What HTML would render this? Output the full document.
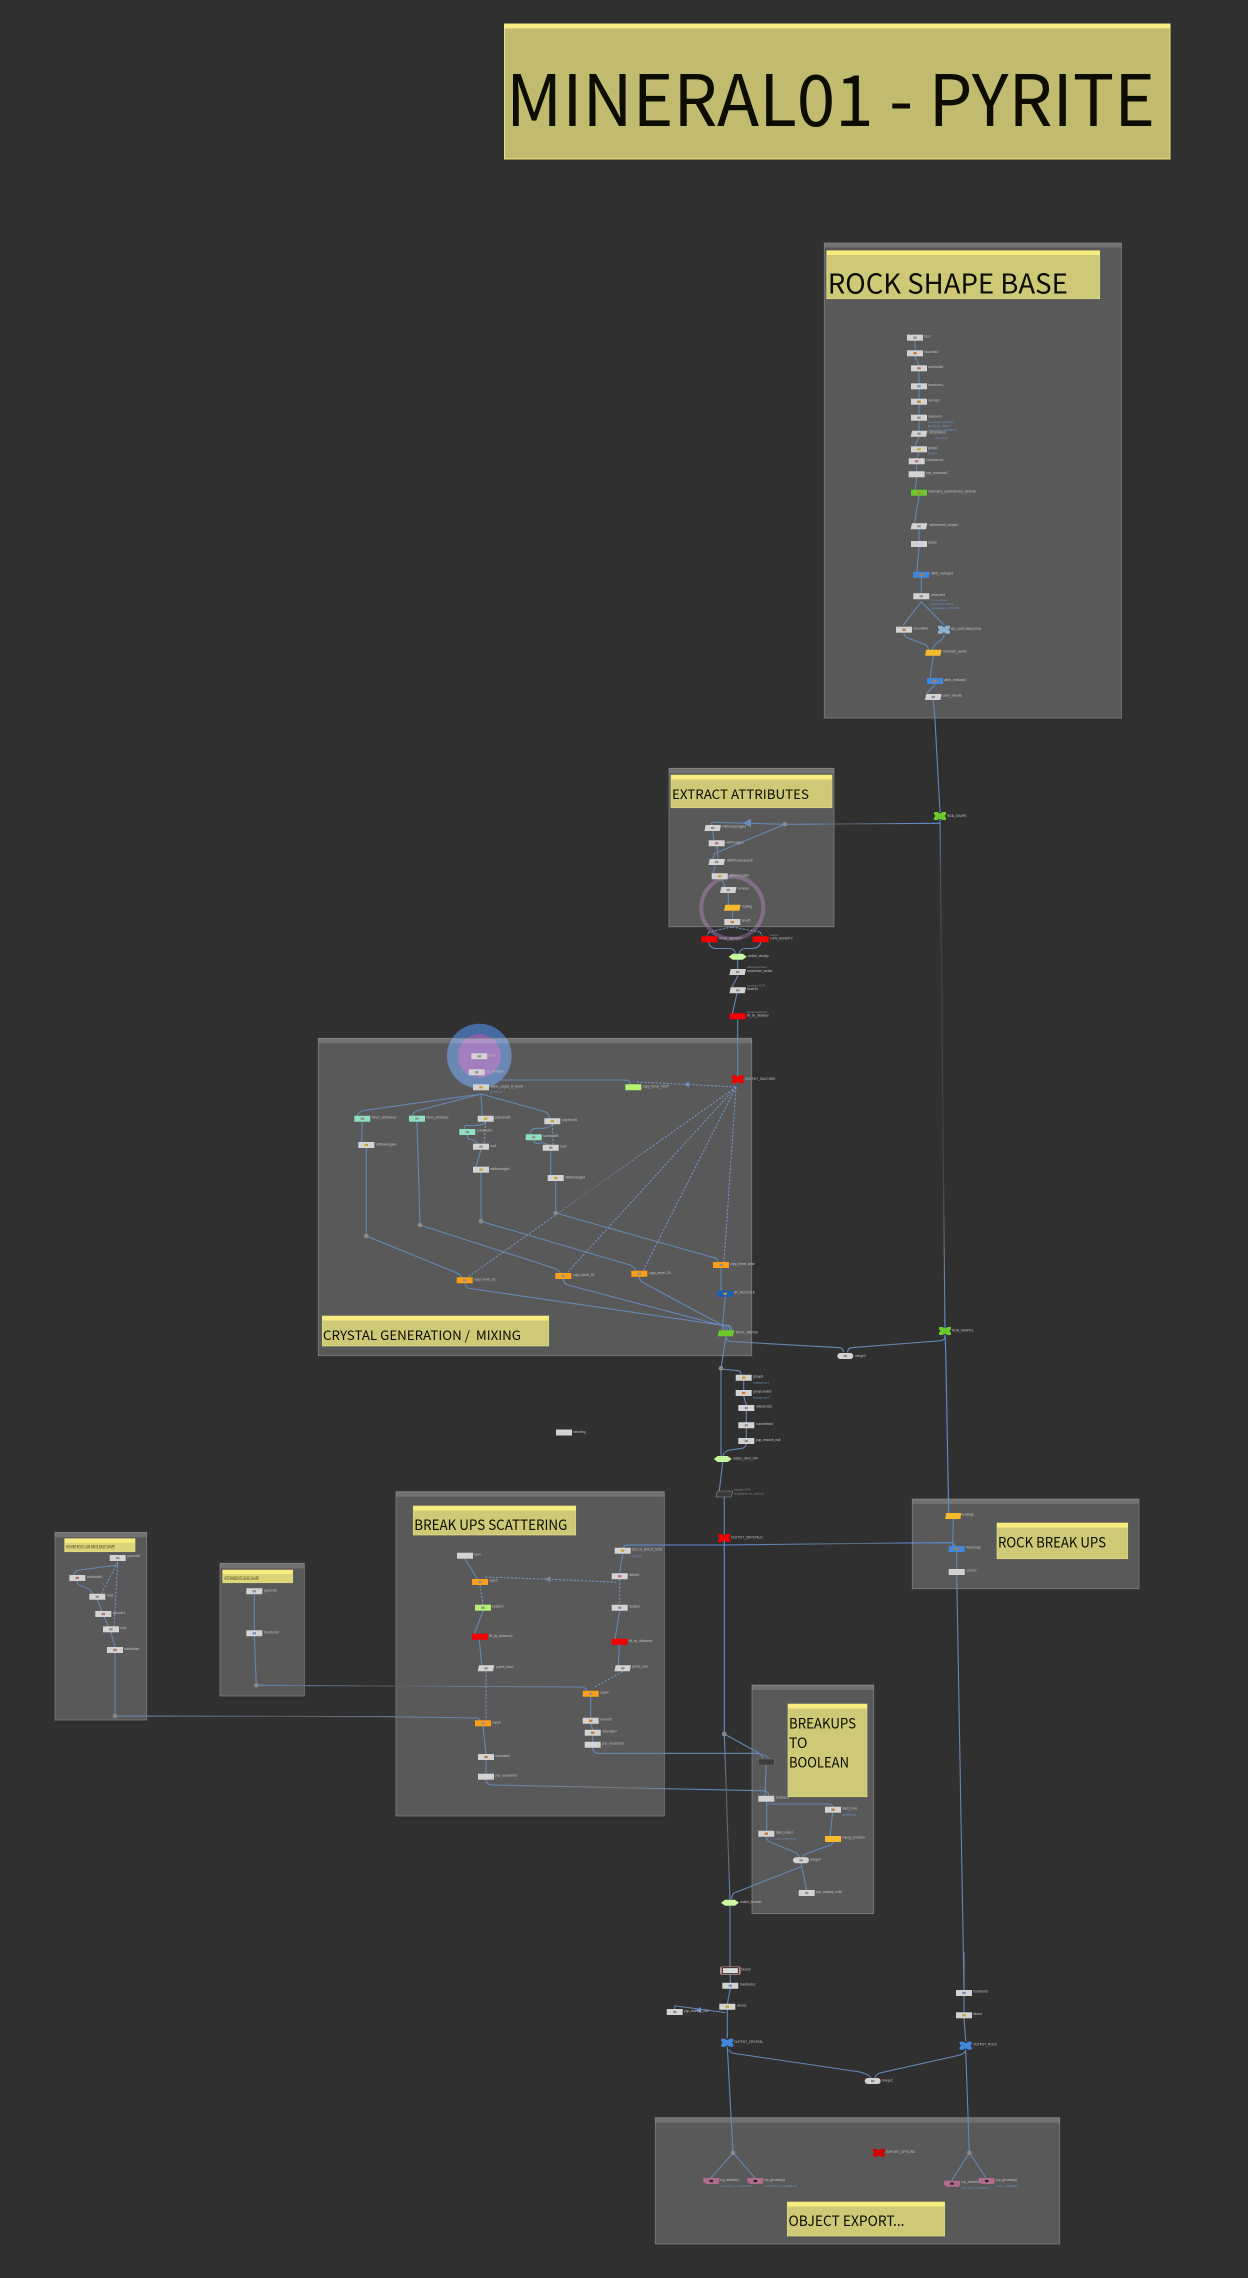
<!DOCTYPE html>
<html><head><meta charset="utf-8"><title>MINERAL01 - PYRITE</title>
<style>
html,body{margin:0;padding:0;background:#303030}
svg{display:block}
.w{fill:none;stroke:#6488b6;stroke-width:1.1;stroke-linejoin:round;stroke-linecap:round}
.d{fill:none;stroke:#7398c8;stroke-width:1;stroke-dasharray:2.2 1.5}
.l text{font:3.2px "Liberation Sans",sans-serif;fill:#c2c2c2}
.s text{font:3px "Liberation Sans",sans-serif;fill:#6a94c8}
.m text{font:3px "Liberation Sans",sans-serif;fill:#8a8a8a}
.t{font-family:"Noto Sans CJK JP","Liberation Sans",sans-serif;fill:#0c0c00;white-space:pre}
.box{fill:rgba(255,255,255,.2);stroke:#7c7c7c;stroke-width:.8}
.hd{fill:rgba(255,255,255,.15)}
.st{fill:#cec977;stroke:#e0da82;stroke-width:.7}
.sh{fill:#f6ec80}
</style></head>
<body>
<svg xmlns="http://www.w3.org/2000/svg" width="1248" height="2278" viewBox="0 0 1248 2278">
<defs>
<path id="n" d="M-8-3H8V3H-8z"/>
<path id="p" d="M-7-3H8.3L7 3H-8.3z"/>
<path id="c" d="M-6-4h3.5l2.5 1.5 2.5-1.5h3.5v2.5l-1.5 1.5 1.5 1.5v2.5h-3.5l-2.5-1.5-2.5 1.5h-3.5v-2.5l1.5-1.5-1.5-1.5z"/>
<path id="h" d="M-9 0L-5-3H5L9 0 5 3H-5z"/>
<rect id="e" x="-8" y="-3" width="16" height="6" rx="3"/>
<path id="k" d="M-8-3H8V1L7 3H-5L-8 1z"/>
<rect id="i" x="-1.7" y="-1.1" width="3.4" height="2.2"/>
<circle id="o" r="2.3" fill="#8a8a8a"/>
<linearGradient id="g1" gradientUnits="userSpaceOnUse" x1="940" y1="0" x2="785" y2="0"><stop offset="0" stop-color="#5b8fd4"/><stop offset=".3" stop-color="#6488b6"/><stop offset=".6" stop-color="#5a5f66"/><stop offset=".8" stop-color="#6488b6"/></linearGradient>
<linearGradient id="g2" gradientUnits="userSpaceOnUse" x1="0" y1="816" x2="0" y2="1331"><stop offset="0" stop-color="#5b8fd4"/><stop offset=".12" stop-color="#50565e"/><stop offset=".3" stop-color="#414141"/><stop offset=".7" stop-color="#444"/><stop offset=".88" stop-color="#6a7f9a"/><stop offset="1" stop-color="#5b8fd4"/></linearGradient>
<linearGradient id="g3" gradientUnits="userSpaceOnUse" x1="115" y1="0" x2="480" y2="0"><stop offset="0" stop-color="#6488b6"/><stop offset=".45" stop-color="#52575c"/><stop offset=".75" stop-color="#6a7a8c"/><stop offset="1" stop-color="#6488b6"/></linearGradient>
<linearGradient id="g4" gradientUnits="userSpaceOnUse" x1="256" y1="0" x2="590" y2="0"><stop offset="0" stop-color="#6488b6"/><stop offset=".35" stop-color="#50555b"/><stop offset=".6" stop-color="#6a7a8c"/><stop offset="1" stop-color="#6488b6"/></linearGradient>
<linearGradient id="g5" gradientUnits="userSpaceOnUse" x1="486" y1="0" x2="767" y2="0"><stop offset="0" stop-color="#6488b6"/><stop offset=".5" stop-color="#777"/><stop offset=".75" stop-color="#5b8fd4"/><stop offset="1" stop-color="#6488b6"/></linearGradient>
<linearGradient id="g6" gradientUnits="userSpaceOnUse" x1="0" y1="1734" x2="0" y2="1905"><stop offset="0" stop-color="#5b8fd4"/><stop offset=".3" stop-color="#666"/><stop offset=".7" stop-color="#666"/><stop offset="1" stop-color="#5b8fd4"/></linearGradient>
<linearGradient id="g8" gradientUnits="userSpaceOnUse" x1="724" y1="0" x2="953" y2="0"><stop offset="0" stop-color="#5b8fd4"/><stop offset=".6" stop-color="#5b6b80"/><stop offset=".8" stop-color="#5b8fd4"/></linearGradient>
<linearGradient id="g9" gradientUnits="userSpaceOnUse" x1="736" y1="1087" x2="468" y2="1277"><stop offset="0" stop-color="#7398c8"/><stop offset=".3" stop-color="#7398c8"/><stop offset=".55" stop-color="#666c74"/><stop offset=".72" stop-color="#7398c8"/></linearGradient>
</defs>

<rect width="1248" height="2278" fill="#303030"/>

<!-- highlight rings -->
<circle cx="732.3" cy="907.7" r="31" fill="none" stroke="#634c6a" stroke-width="4"/>
<circle cx="479.3" cy="1056" r="32.3" fill="#466ba3"/>
<circle cx="479.3" cy="1056" r="21.7" fill="#8a5fb0"/>

<!-- network boxes -->
<rect class="box" x="824.3" y="243" width="297.2" height="475"/><rect class="hd" x="824.3" y="243" width="297.2" height="4.5"/>
<rect class="box" x="669" y="768.3" width="165" height="158.4"/><rect class="hd" x="669" y="768.3" width="165" height="5"/>
<rect class="box" x="318.3" y="1038.3" width="433.4" height="317.4"/><rect class="hd" x="318.3" y="1038.3" width="433.4" height="5"/>
<rect class="box" x="912.3" y="1499" width="226.7" height="89.7"/><rect class="hd" x="912.3" y="1499" width="226.7" height="5"/>
<rect class="box" x="396" y="1491.7" width="268.3" height="324.3"/><rect class="hd" x="396" y="1491.7" width="268.3" height="5"/>
<rect class="box" x="752" y="1685" width="121.7" height="228.6"/><rect class="hd" x="752" y="1685" width="121.7" height="5"/>
<rect class="box" x="55" y="1532.3" width="91.7" height="187.7"/><rect class="hd" x="55" y="1532.3" width="91.7" height="5"/>
<rect class="box" x="220" y="1563.3" width="84.3" height="132.7"/><rect class="hd" x="220" y="1563.3" width="84.3" height="5"/>
<rect class="box" x="655.3" y="2117.7" width="404.4" height="126.3"/><rect class="hd" x="655.3" y="2117.7" width="404.4" height="5"/>

<!-- sticky notes -->
<rect x="504.5" y="24" width="665.5" height="135" fill="#c1bb70" stroke="#efe67c" stroke-width="1"/><rect class="sh" x="504.5" y="24" width="665.5" height="4.5"/>
<text class="t" x="506" y="126" font-size="71" textLength="649" lengthAdjust="spacingAndGlyphs">MINERAL01 - PYRITE</text>
<rect class="st" x="826.7" y="250.7" width="273" height="48"/><rect class="sh" x="826.7" y="250.7" width="273" height="4.3"/>
<text class="t" x="827.8" y="293.3" font-size="27.5" textLength="240" lengthAdjust="spacingAndGlyphs">ROCK SHAPE BASE</text>
<rect class="st" x="671" y="775" width="161" height="32.7"/><rect class="sh" x="671" y="775" width="161" height="4.5"/>
<text class="t" x="672" y="799" font-size="13" textLength="137" lengthAdjust="spacingAndGlyphs">EXTRACT ATTRIBUTES</text>
<rect class="st" x="322.3" y="1316" width="226.4" height="30"/><rect class="sh" x="322.3" y="1316" width="226.4" height="4.5"/>
<text class="t" x="323" y="1340" font-size="13" textLength="198" lengthAdjust="spacingAndGlyphs">CRYSTAL GENERATION /  MIXING</text>
<rect class="st" x="997" y="1523" width="130.7" height="35.7"/><rect class="sh" x="997" y="1523" width="130.7" height="4.5"/>
<text class="t" x="998" y="1547.3" font-size="14" textLength="108" lengthAdjust="spacingAndGlyphs">ROCK BREAK UPS</text>
<rect class="st" x="413.3" y="1506" width="162.4" height="29"/><rect class="sh" x="413.3" y="1506" width="162.4" height="4.5"/>
<text class="t" x="414.3" y="1530" font-size="14" textLength="153" lengthAdjust="spacingAndGlyphs">BREAK UPS SCATTERING</text>
<rect class="st" x="788" y="1704" width="79" height="92.7"/><rect class="sh" x="788" y="1704" width="79" height="4.5"/>
<text class="t" x="789" y="1728.3" font-size="14" textLength="67" lengthAdjust="spacingAndGlyphs">BREAKUPS</text>
<text class="t" x="789" y="1748" font-size="14">TO</text>
<text class="t" x="789" y="1767.3" font-size="14" textLength="60" lengthAdjust="spacingAndGlyphs">BOOLEAN</text>
<rect class="st" x="64.7" y="1538.7" width="70.3" height="13" style="fill:#dcd678"/><rect class="sh" x="64.7" y="1538.7" width="70.3" height="4"/>
<text class="t" x="66" y="1548.6" font-size="4.6" textLength="49" lengthAdjust="spacingAndGlyphs" style="fill:#3a3818">HIGHER ROCK LAW DRIVE BASE SHAPE</text>
<rect class="st" x="222.7" y="1570" width="70" height="12.7" style="fill:#dcd678"/><rect class="sh" x="222.7" y="1570" width="70" height="4"/>
<text class="t" x="224" y="1580.2" font-size="4.6" textLength="35" lengthAdjust="spacingAndGlyphs" style="fill:#3a3818">INTERMEDIATE BASE SHAPE</text>
<rect class="st" x="787.3" y="2202" width="157.4" height="34"/><rect class="sh" x="787.3" y="2202" width="157.4" height="4.5"/>
<text class="t" x="788.5" y="2226" font-size="14.5" textLength="116" lengthAdjust="spacingAndGlyphs">OBJECT EXPORT...</text>

<!-- long faded wires -->
<g fill="none" stroke-width="1.1">
<path stroke="url(#g1)" d="M940 823.3L785 824.3"/>
<path stroke="url(#g2)" d="M940 816L945 1331"/>
<path stroke="url(#g3)" d="M115 1716L390 1716.7 476 1718Q480 1718 480 1721"/>
<path stroke="url(#g4)" d="M256.3 1685.3L390 1686 582 1687Q587 1688 587 1691"/>
<path stroke="url(#g5)" d="M486 1780Q487 1785 492 1785L680 1789 762 1790.7Q768 1791 769 1795"/>
<path stroke="url(#g8)" d="M623 1550Q623 1545 628 1545L724.3 1545 900 1543 950 1542.7Q954 1543 955 1546"/>
<path stroke="#5b8fd4" d="M724.3 1540V1734"/>
<path stroke="url(#g6)" d="M724.3 1734L730 1900"/>
</g>

<!-- wires -->
<g class="w">
<path d="M915 341V350M915 356.5L919 365M919 371V383M919 389.5V398.5M919 405V414.5M919 421V430.5M919 436.7L915 446M919 452L916.7 458.7M916.7 464V471M916.7 477.3L915 490M919 496L914.5 523M919 529.5V541M919 547L917 572M921.3 578V593M921.3 601.7L903.3 625M921.3 601.7L944 625M904 633Q904 637 908 638L926 645Q928 647 928.5 650M944 634.5Q944 638 941 640 933 645 932 650M933.3 656L930 678.3M935 684.3L927 693M933.3 700L935 720 940 812"/>
<path d="M712.7 825Q709 822.5 714 822.3L785 824.3 715 853.3Q713 855 713.3 859"/>
<path d="M712.7 831L714 840M717 846.3L718 858M715 865L713 873.5M722 879L725 887M728.3 893V905M732.7 911V919"/>
<path d="M709 942Q709 948 716 948.5H730Q735 949 735 953M760.7 942Q760 948 752 948.5H745Q740 949 739.5 953M737.7 960V969M737.7 976L732 987M737 993.5L732.5 1013M737.7 1019V1075"/>
<path d="M476.7 1075L478 1084.5M478 1080H624Q630 1080 630.7 1084.5M481 1094L364 1110.5Q358 1112 357 1116M481 1094L418 1110.5Q413 1112 412 1116M481 1094L482.3 1116M481 1094L546 1112Q549 1114 549.5 1118"/>
<path d="M362.3 1121.5L361.7 1142M366.3 1148.5V1236M417 1121.5L420 1225M485.7 1121.5Q484 1125 476 1125.5H466Q464 1126 464.3 1129.5M467.3 1135Q467 1139 470 1139.3 475 1140 478 1144M481 1149.3L476 1167M481 1172.7V1221M552.3 1124Q550 1128 543 1128.3H536Q530 1129 530 1135M533.7 1140.3Q535 1144 538 1143.5 545 1142 548 1145M550.7 1150.7V1175M555.7 1181V1213"/>
<path d="M366.3 1236L457 1273Q461 1275 462 1278M420 1225L555 1268.5Q560 1271 560.7 1274M481 1221.3L630 1265Q636 1268 636 1271M555.7 1213L715 1258Q718 1260 718.5 1263"/>
<path d="M465 1283Q465.5 1288 470 1288.5L720 1325M563.3 1279Q564 1284 568 1285L720 1325M639.3 1277Q640 1281 642 1282L722 1325M721 1268V1291M725.3 1297L722 1330"/>
<path d="M720 1325Q724 1325 724.5 1330M722 1325Q727 1325 727 1330M724 1325Q729.5 1325 730 1330M726 1325Q731.5 1325 731.5 1330"/>
<path d="M726 1336L721 1368.3M726.5 1338Q727 1341 731 1341.5L840 1347.7Q843 1348.5 843.5 1352M847.5 1352Q848 1348.5 851 1347.7L941 1340.7Q945 1340 945 1336"/>
<path d="M721 1369L738 1370.7Q741 1371 741 1374.5M743.7 1381V1390M743.7 1396L746.3 1405M746.3 1411V1422.3M746.3 1428.3V1438M746.3 1444Q745 1448 742 1448.3L730 1450Q724 1451 723 1456M722.7 1462L719.3 1491"/>
<path d="M721 1369L721 1456M724.3 1497V1534"/>
<path d="M953.3 1519L952.7 1546M956.7 1552V1569M956.7 1575L957.7 1630 964 1990"/>
<path d="M945 1335L945.7 1350 948.7 1513" style="stroke:#5b8fd4"/>
<path d="M465 1558.7L477.3 1579M483 1611L474.3 1634M479.3 1639.7L481.7 1665.3M483 1726L486 1754M486 1760V1774M622.7 1553.7L619.7 1573.7M619.7 1610.7L615 1639M619.3 1644.7L618.3 1665.7M590.7 1696.7V1718M590.7 1723.7L592.7 1730M592.7 1735.7V1742M592.7 1747.7Q593 1753 598 1753.3H755Q766 1754 769 1759.3M724.3 1734L757 1752Q762 1755 762.7 1758"/>
<path d="M117.7 1565L80 1570Q74 1571 74 1575M77.3 1581Q77.5 1585 80 1585.5 90 1588 93 1594M97.3 1600L108.3 1626.7M111 1632.3L115 1647.3M115 1653V1716M254.3 1594.3V1630.7M254.3 1636.3L256.3 1685"/>
<path d="M766.3 1765L765 1796M766.7 1802V1830.7M766.7 1804H828Q833 1804 833 1807M832.7 1812.7L830 1836.7M766.3 1836.7Q767 1841 770 1842L796 1852.7Q799 1855 799 1857.3M833 1842Q832 1846 826 1846.5L808 1853Q803 1855 803 1857.3M801 1863.3L806.7 1890M801 1866.7L734 1893Q732 1895 731.7 1898.3"/>
<path d="M730 1905V1968M730.3 1973.7V1982.7M730.3 1988.7L727.3 2004M727.3 2010V2038M674.7 2009V2006Q675 2006 676 2006L725 2012.5"/>
<path d="M727.3 2047L733 2152.7"/>
<path d="M729 2050Q730 2053 735 2053.5L860 2072Q870 2075 870.5 2077.5M875 2077.5Q876 2074 880 2073L960 2055Q965 2053 965.5 2051M964 1953V1990M964 1996V2012.3M964 2018.3L965.7 2041M965.7 2050L969.3 2152.7"/>
<path d="M733 2152.7L711 2178M733 2152.7L755 2178M969.3 2152.7L952 2180M969.3 2152.7L986 2178"/>
</g>

<!-- dashed wires -->
<g class="d">
<path d="M732 927L709 932M732 927L760 932M709 932L707 936M760 932L762 936"/>
<path d="M637 1082L689 1084.5 736 1087"/>
<path d="M485.7 1122L484 1144M552.3 1124L553.3 1145"/>
<path style="stroke:url(#g9)" d="M736 1087L468 1277"/>
<path d="M736 1087L567 1273M736 1087L643 1271M736 1087L724 1262"/>
<path d="M485 1577L550 1579.3 618 1582.3M480 1585L483 1605M619.7 1579V1605M622.7 1671.5L594 1687.5M486 1671.5V1720.7"/>
<path d="M117.7 1562L101.7 1593.3M117.7 1562L114 1626.7"/>
</g>
<path d="M743 823l8-4.2v8.4z" fill="#6a8ebc"/><path d="M684 1084.5l5-3v6z" fill="#6a8fc0"/><path d="M545 1579.3l5.5-3.2v6.4z" fill="#7a8a9c"/><path d="M696 2010l5-3v6z" fill="#5b8fd4"/>

<!-- junction dots -->
<use href="#o" x="784.7" y="824.3"/><use href="#o" x="366.3" y="1236"/><use href="#o" x="420" y="1225"/><use href="#o" x="481" y="1221.3"/><use href="#o" x="555.7" y="1213"/><use href="#o" x="721" y="1368.3"/><use href="#o" x="724.3" y="1734"/><use href="#o" x="115" y="1716"/><use href="#o" x="256.3" y="1685.3"/><use href="#o" x="733" y="2152.7"/><use href="#o" x="969.3" y="2152.7"/>

<!-- nodes -->
<g fill="#d3d3d3">
<use href="#n" x="915" y="337.7"/><use href="#n" x="915" y="353.3"/><use href="#n" x="919" y="368.3"/><use href="#n" x="919" y="386.3"/><use href="#n" x="919" y="401.7"/><use href="#n" x="919" y="417.7"/><use href="#p" x="919" y="433.7"/><use href="#n" x="919" y="449.3"/><use href="#n" x="916.7" y="461.3"/><use href="#n" x="916.7" y="474.3"/><use href="#n" x="919" y="492.7" fill="#6cc92c"/><use href="#p" x="919" y="526.3"/><use href="#n" x="919" y="544"/><use href="#n" x="921.3" y="574.7" fill="#4287de"/><use href="#n" x="921.3" y="596.3"/><use href="#n" x="904" y="629.7"/><use href="#c" x="944" y="629.7" fill="#8fb2cf"/><use href="#p" x="933.3" y="652.7" fill="#f7b92e"/><use href="#n" x="935" y="681" fill="#4287de"/><use href="#p" x="933.3" y="697"/>
<use href="#c" x="940" y="816" fill="#6cc92c"/>
<use href="#p" x="712.7" y="828"/><use href="#n" x="716.7" y="843.3"/><use href="#p" x="716.7" y="862"/><use href="#n" x="719.7" y="876.3"/><use href="#p" x="728.3" y="890"/><use href="#p" x="732.3" y="907.7" fill="#f7b92e"/><use href="#n" x="732.3" y="922"/><use href="#n" x="709.3" y="939.3" fill="#f40000"/><use href="#n" x="760.7" y="939.3" fill="#f40000"/><use href="#h" x="737.7" y="956.7" fill="#c8f8a0"/><use href="#p" x="737.7" y="972"/><use href="#p" x="737.7" y="990.3"/><use href="#n" x="737.7" y="1016.3" fill="#f40000"/>
<use href="#n" x="479.3" y="1056.3"/><use href="#n" x="476.7" y="1072.3"/><use href="#n" x="481" y="1087.3"/><use href="#n" x="633.3" y="1087.3" fill="#b5f171"/><use href="#c" x="737.7" y="1079.3" fill="#f40000"/><use href="#n" x="362.3" y="1118.7" fill="#8fe0c0"/><use href="#n" x="417" y="1118.7" fill="#8fe0c0"/><use href="#n" x="485.7" y="1118.7"/><use href="#n" x="552.3" y="1121.3"/><use href="#n" x="467.3" y="1132" fill="#8fe0c0"/><use href="#n" x="533.7" y="1137.3" fill="#8fe0c0"/><use href="#n" x="481" y="1146.7"/><use href="#n" x="550.7" y="1147.7"/><use href="#n" x="366.3" y="1145"/><use href="#n" x="481" y="1169.7"/><use href="#n" x="555.7" y="1178"/><use href="#n" x="464.7" y="1280.3" fill="#fb9f17"/><use href="#n" x="563.3" y="1276" fill="#fb9f17"/><use href="#n" x="639.3" y="1273.7" fill="#fb9f17"/><use href="#n" x="721" y="1265" fill="#fb9f17"/><use href="#n" x="725.3" y="1293.7" fill="#1a5fb4"/><use href="#p" x="726" y="1333.3" fill="#6cc92c"/>
<use href="#e" x="845.3" y="1356"/><use href="#c" x="945" y="1331" fill="#6cc92c"/>
<use href="#n" x="743.7" y="1377.7"/><use href="#n" x="743.7" y="1393"/><use href="#n" x="746.3" y="1408"/><use href="#n" x="746.3" y="1425.3"/><use href="#n" x="746.3" y="1441"/><use href="#h" x="722.7" y="1459" fill="#c8f8a0"/>
<use href="#p" x="724.3" y="1494" fill="#3c3c3c" stroke="#8a8a8a" stroke-width=".6"/><use href="#c" x="724.3" y="1538" fill="#f40000"/>
<use href="#n" x="564" y="1432.5"/>
<use href="#p" x="953.3" y="1516" fill="#f7b92e"/><use href="#n" x="956.7" y="1549" fill="#4287de"/><use href="#n" x="956.7" y="1572"/>
<use href="#n" x="465" y="1555.7"/><use href="#n" x="480" y="1582" fill="#fb9f17"/><use href="#n" x="483" y="1607.7" fill="#b5f171"/><use href="#n" x="480" y="1636.7" fill="#f40000"/><use href="#p" x="486" y="1668.3"/><use href="#n" x="483" y="1723.3" fill="#fb9f17"/><use href="#n" x="486" y="1757"/><use href="#n" x="486" y="1776.7"/><use href="#n" x="622.7" y="1550.7"/><use href="#n" x="619.7" y="1576.3"/><use href="#n" x="619.7" y="1607.7"/><use href="#n" x="619.7" y="1641.7" fill="#f40000"/><use href="#p" x="622.7" y="1668.3"/><use href="#n" x="590.7" y="1693.7" fill="#fb9f17"/><use href="#n" x="590.7" y="1720.7"/><use href="#n" x="592.7" y="1732.7"/><use href="#n" x="592.7" y="1744.7"/>
<use href="#n" x="766.3" y="1762" fill="#3c3c3c" stroke="#6e6e6e" stroke-width=".6"/><use href="#n" x="766.3" y="1798.7"/><use href="#n" x="833" y="1809.7"/><use href="#n" x="766.3" y="1833.7"/><use href="#n" x="833" y="1839" fill="#f7b92e"/><use href="#e" x="801" y="1860.3"/><use href="#n" x="806.7" y="1893"/><use href="#h" x="730" y="1902.7" fill="#c8f8a0"/>
<use href="#n" x="117.7" y="1558"/><use href="#n" x="77.3" y="1578"/><use href="#n" x="97.3" y="1596.7"/><use href="#n" x="103.3" y="1614"/><use href="#n" x="111" y="1629.3"/><use href="#n" x="115" y="1650"/><use href="#n" x="254.3" y="1591.3"/><use href="#n" x="254.3" y="1633.3"/>
<rect x="720" y="1966.5" width="20.6" height="8.4" rx="2" fill="#c98f8f"/><rect x="722.3" y="1967.7" width="16" height="6" fill="#dcdcdc" stroke="#111" stroke-width=".8"/>
<use href="#n" x="730.3" y="1985.7"/><use href="#n" x="727.3" y="2006.7"/><use href="#n" x="674.7" y="2012"/><use href="#c" x="727.3" y="2042.7" fill="#4287de"/><use href="#n" x="964" y="1993"/><use href="#n" x="964" y="2015.3"/><use href="#c" x="965.7" y="2045.7" fill="#4287de"/><use href="#e" x="872.7" y="2081"/>
<use href="#k" x="711.3" y="2181" fill="#b06a8c"/><use href="#k" x="755.3" y="2181" fill="#b06a8c"/><use href="#k" x="952" y="2183.7" fill="#b06a8c"/><use href="#k" x="986.7" y="2181" fill="#b06a8c"/>
<use href="#c" x="879" y="2152.7" fill="#d40000"/>
</g>

<!-- node icons -->
<g fill="#c8782c">
<use href="#i" x="915" y="353.3"/><use href="#i" x="919" y="401.7"/><use href="#i" x="904" y="629.7"/><use href="#i" x="921.3" y="574.7"/><use href="#i" x="935" y="681"/><use href="#i" x="732.3" y="922"/><use href="#i" x="486" y="1757"/><use href="#i" x="592.7" y="1732.7"/><use href="#i" x="590.7" y="1720.7"/><use href="#i" x="833" y="1809.7"/><use href="#i" x="766.3" y="1833.7"/><use href="#i" x="956.7" y="1549"/><use href="#i" x="743.7" y="1393"/><use href="#i" x="919" y="492.7"/>
</g>
<g fill="#c9a227">
<use href="#i" x="919" y="449.3"/><use href="#i" x="481" y="1087.3"/><use href="#i" x="485.7" y="1118.7"/><use href="#i" x="552.3" y="1121.3"/><use href="#i" x="366.3" y="1145"/><use href="#i" x="481" y="1169.7"/><use href="#i" x="555.7" y="1178"/><use href="#i" x="719.7" y="876.3"/><use href="#i" x="725.3" y="1293.7"/><use href="#i" x="727.3" y="2006.7"/><use href="#i" x="964" y="2015.3"/><use href="#i" x="622.7" y="1550.7"/><use href="#i" x="743.7" y="1377.7"/>
</g>
<g fill="#8f8f8f">
<use href="#i" x="915" y="337.7"/><use href="#i" x="919" y="417.7"/><use href="#i" x="919" y="433.7"/><use href="#i" x="919" y="526.3"/><use href="#i" x="921.3" y="596.3"/><use href="#i" x="933.3" y="697"/><use href="#i" x="712.7" y="828"/><use href="#i" x="716.7" y="862"/><use href="#i" x="728.3" y="890"/><use href="#i" x="737.7" y="972"/><use href="#i" x="737.7" y="990.3"/><use href="#i" x="479.3" y="1056.3"/><use href="#i" x="476.7" y="1072.3"/><use href="#i" x="481" y="1146.7"/><use href="#i" x="550.7" y="1147.7"/><use href="#i" x="464.7" y="1280.3"/><use href="#i" x="563.3" y="1276"/><use href="#i" x="639.3" y="1273.7"/><use href="#i" x="721" y="1265"/><use href="#i" x="746.3" y="1408"/><use href="#i" x="746.3" y="1425.3"/><use href="#i" x="746.3" y="1441"/><use href="#i" x="619.7" y="1607.7"/><use href="#i" x="483" y="1607.7"/><use href="#i" x="480" y="1582"/><use href="#i" x="483" y="1723.3"/><use href="#i" x="590.7" y="1693.7"/><use href="#i" x="486" y="1668.3"/><use href="#i" x="622.7" y="1668.3"/><use href="#i" x="845.3" y="1356"/><use href="#i" x="872.7" y="2081"/><use href="#i" x="801" y="1860.3"/><use href="#i" x="117.7" y="1558"/><use href="#i" x="254.3" y="1591.3"/><use href="#i" x="97.3" y="1596.7"/><use href="#i" x="111" y="1629.3"/><use href="#i" x="674.7" y="2012"/><use href="#i" x="806.7" y="1893"/><use href="#i" x="362.3" y="1118.7"/><use href="#i" x="417" y="1118.7"/><use href="#i" x="467.3" y="1132"/><use href="#i" x="533.7" y="1137.3"/>
</g>
<g fill="#6f8fc0">
<use href="#i" x="919" y="386.3"/><use href="#i" x="730.3" y="1985.7"/><use href="#i" x="964" y="1993"/><use href="#i" x="254.3" y="1633.3"/>
</g>
<g fill="#c06a78">
<use href="#i" x="919" y="368.3"/><use href="#i" x="916.7" y="461.3"/><use href="#i" x="716.7" y="843.3"/><use href="#i" x="619.7" y="1576.3"/><use href="#i" x="77.3" y="1578"/><use href="#i" x="103.3" y="1614"/><use href="#i" x="115" y="1650"/>
</g>
<g fill="#222">
<use href="#i" x="711.3" y="2181"/><use href="#i" x="952" y="2183.7"/><use href="#i" x="755.3" y="2181"/><use href="#i" x="986.7" y="2181"/>
</g>

<!-- labels -->
<g class="l">
<text x="924" y="337.5">box1</text><text x="924" y="353">mountain2</text><text x="928" y="368">subdivide6</text><text x="928" y="386">transform1</text><text x="928" y="401.3">normal3</text><text x="928" y="417.3">measure1</text><text x="929" y="433.3">dissipationd</text><text x="928" y="449">group3</text><text x="926" y="461">polyreduce4</text><text x="926" y="474">pop_reactions2</text><text x="928" y="492.3">mineralize_parameterize_attribute</text><text x="929" y="526">vertexbreed_shape4</text><text x="928" y="543.5">peak3</text><text x="931" y="574.3">attrib_reshape2</text><text x="931" y="596">measure4</text><text x="913" y="629.3">mountain3</text><text x="951" y="630">BO_DISTURBATION</text><text x="943" y="652.3">mountain_peaks</text><text x="944" y="681">attrib_reshape2</text><text x="943" y="696.5">parm_density</text>
<text x="947" y="817">RGB_SHAPE</text>
<text x="722" y="827.5">vdbtransportgrad</text><text x="726" y="843.5">vdbfromgrp1</text><text x="727" y="861.5">attribfromvolume5</text><text x="729" y="876.5">attribwrangle3</text><text x="738" y="889.5">remove</text><text x="742" y="907.5">scaling</text><text x="742" y="921.5">level5</text><text x="719" y="939.5">HIGH_DENSITY</text><text x="770" y="939.5">LOW_DENSITY</text><text x="748" y="957">switch_density</text><text x="747" y="972">randomize_peaks</text><text x="747" y="990">scale10</text><text x="747" y="1016.5">fill_by_distance</text>
<text x="489" y="1056.5">box2</text><text x="486" y="1072.5">top_normal3</text><text x="490" y="1087.5">define_edges_to_bevel</text><text x="643" y="1087.5">copy_bevel_TEST</text><text x="745" y="1080">OUTPUT_SACCHER</text><text x="372" y="1118.5">bevel_attributes2</text><text x="426" y="1118.5">bevel_attributes</text><text x="495" y="1118.5">polybevel2</text><text x="562" y="1121">polybevel3</text><text x="477" y="1131.5">subdivide7</text><text x="543" y="1137">subdivide8</text><text x="490" y="1147">rop2</text><text x="560" y="1147.5">rop3</text><text x="376" y="1145.5">attribwrangle4</text><text x="490" y="1170">attribwrangle4</text><text x="565" y="1178.5">attribwrangle4</text><text x="474" y="1280.5">copy_bevel_S1</text><text x="573" y="1276">copy_bevel_S2</text><text x="649" y="1274">copy_bevel_S3</text><text x="730" y="1265">copy_bevel_base</text><text x="734" y="1293.5">SV_RESCALE</text><text x="736" y="1333.5">BOOL_MERGE</text>
<text x="855" y="1357">merge3</text><text x="952" y="1331.5">RGB_SHAPE1</text>
<text x="753" y="1377.5">group8</text><text x="753" y="1392.5">groupcreate1</text><text x="756" y="1407.5">mainscript1</text><text x="756" y="1425">convertline2</text><text x="756" y="1441">pop_residue_null</text><text x="733" y="1459.5">switch_other_DIV</text><text x="731" y="1538.5">OUTPUT_CRYSTALS</text><text x="573" y="1433">selecting</text>
<text x="962" y="1515.5">scaling2</text><text x="966" y="1548.5">fracturing2</text><text x="966" y="1571.5">color10</text>
<text x="474" y="1555.5">box1</text><text x="489" y="1581.5">copy5</text><text x="492" y="1607.5">scatter3</text><text x="489" y="1637">fill_by_distance2</text><text x="496" y="1668">points_lock3</text><text x="492" y="1723.5">copy6</text><text x="495" y="1757">mountain5</text><text x="495" y="1776.5">pop_reactions6</text><text x="632" y="1550.5">SCLLS_BUILD_SIZE</text><text x="629" y="1576">delete1</text><text x="629" y="1607.5">scatter1</text><text x="629" y="1642">fill_by_distance4</text><text x="632" y="1667.5">points_lock</text><text x="600" y="1693.5">copy4</text><text x="600" y="1720.5">normal5</text><text x="602" y="1732.5">mountain7</text><text x="602" y="1744.5">pop_reactions5</text>
<text x="776" y="1798.5">boolean2</text><text x="842" y="1809.5">blast_cube</text><text x="776" y="1833.5">blast_cube1</text><text x="842" y="1838.5">energy_boolean</text><text x="810" y="1860.5">merge4</text><text x="816" y="1893">pop_residue_null2</text><text x="740" y="1903">switch_boolean</text>
<text x="127" y="1557">pyramid2</text><text x="87" y="1578">subdivide5</text><text x="107" y="1596.5">rop3</text><text x="113" y="1614">smooth1</text><text x="120" y="1629">rop2</text><text x="124" y="1650">subdivide6</text><text x="264" y="1591.5">pyramid2</text><text x="264" y="1633.5">transform2</text>
<text x="741" y="1970.5">clean3</text><text x="740" y="1985.5">transform1</text><text x="737" y="2006.5">clean2</text><text x="684" y="2012">pop_residue_null</text><text x="734" y="2043">OUTPUT_CRYSTAL</text><text x="973" y="1992.5">transform2</text><text x="973" y="2015">clean1</text><text x="973" y="2045.5">OUTPUT_ROCK</text><text x="882" y="2081.5">merge2</text>
<text x="720" y="2181">rop_alembic1</text><text x="764" y="2181">rop_geometry1</text><text x="961" y="2183">rop_alembic2</text><text x="996" y="2181">rop_geometry2</text><text x="886" y="2153">EXPORT_OPTIONS</text>
</g>
<g class="m">
<text x="734" y="1490.5">bypass SOP</text><text x="734" y="1494.5">crystalsize_to_volume</text>
<text x="747" y="968">debug/boolean</text><text x="747" y="986.5">boolean SOP</text><text x="747" y="1013">distance/thresh</text>
<text x="770" y="936">output</text>
</g>
<g class="s">
<text x="927.7" y="423">Geodesic Selection</text><text x="927.7" y="427">Elements: 3262</text><text x="927.7" y="431">Aggregate: 12345678</text><text x="935" y="439">convolver</text><text x="928" y="454">group1</text>
<text x="931" y="601">Connections</text><text x="931" y="605">Elements: 17093</text><text x="931" y="609">Aggregate: 2233.908</text>
<text x="490" y="1092.5">bevelarg</text><text x="753" y="1383.5">edgegroup1</text><text x="753" y="1398.5">edgegroup2</text>
<text x="632" y="1557">group1</text><text x="842" y="1815.5">sidesblock</text><text x="776" y="1839.5">non_sidesblock</text>
<text x="720" y="2187">removeVT_crystalMesh</text><text x="764" y="2187">attribRecon_crystalMesh</text><text x="961" y="2189">removeVT_rockMesh</text><text x="996" y="2187">attrib_rockMesh</text>
</g>
</svg>
</body></html>
